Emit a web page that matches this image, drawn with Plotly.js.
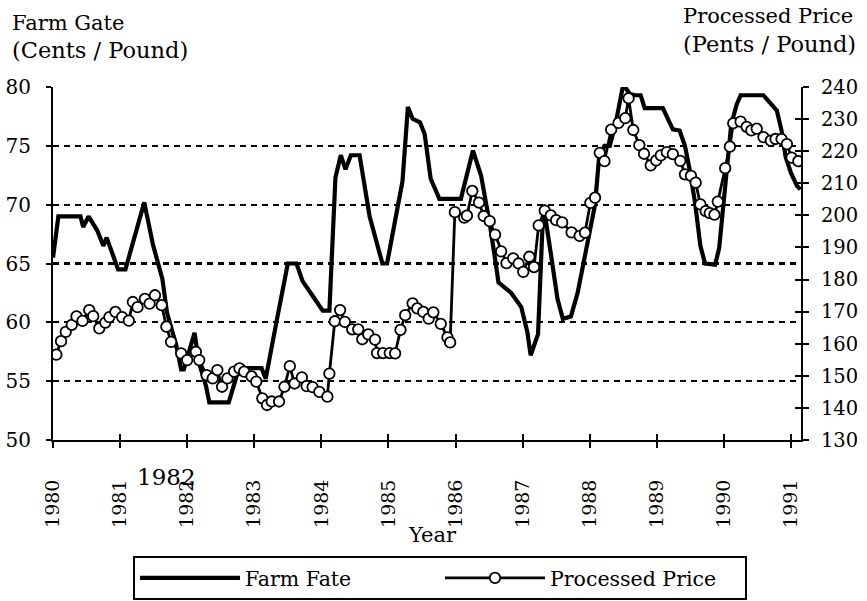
<!DOCTYPE html>
<html>
<head>
<meta charset="utf-8">
<script src="https://cdn.plot.ly/plotly-3.0.1.min.js"></script>
<style>
  html, body { margin: 0; padding: 0; background: #ffffff; }
  #chart { width: 867px; height: 601px; }
</style>
</head>
<body>
<div id="chart"></div>
<script>
// ---------------- data ----------------
const tickYears = [1980, 1981, 1982, 1983, 1984, 1985, 1986, 1987, 1988, 1989, 1990, 1991];
const tickLabels = ["1980", "1981", "1982", "1983", "1984", "1985", "1986", "1987", "1988", "1989", "1990", "1991"];

// Farm gate price (cents / pound), left axis
const farmYears = [
  1980.00, 1980.08, 1980.41, 1980.45, 1980.53, 1980.66, 1980.75, 1980.80, 1980.97,
  1981.08, 1981.36, 1981.49, 1981.63, 1981.70, 1981.84, 1981.91, 1981.95,
  1982.11, 1982.18, 1982.28, 1982.33, 1982.62, 1982.74, 1982.87,
  1983.11, 1983.17, 1983.34, 1983.50, 1983.63, 1983.72, 1983.90,
  1984.02, 1984.12, 1984.21, 1984.29, 1984.36, 1984.44, 1984.57, 1984.72, 1984.81, 1984.91, 1984.98,
  1985.10, 1985.21, 1985.29, 1985.36, 1985.47, 1985.54, 1985.63, 1985.76,
  1986.08, 1986.18, 1986.26, 1986.38, 1986.51, 1986.60, 1986.64, 1986.83, 1986.98,
  1987.07, 1987.12, 1987.23, 1987.31, 1987.43, 1987.52, 1987.60, 1987.72, 1987.82, 1987.93,
  1988.02, 1988.08, 1988.14, 1988.22, 1988.30, 1988.39, 1988.50, 1988.60, 1988.68, 1988.76, 1988.82,
  1989.09, 1989.24, 1989.34, 1989.42, 1989.49, 1989.57, 1989.65, 1989.72, 1989.87, 1989.93,
  1990.07, 1990.11, 1990.19, 1990.25, 1990.59, 1990.64, 1990.71, 1990.79, 1990.86, 1990.92,
  1991.00, 1991.09, 1991.14
];
const farmValues = [
  65.5, 69.0, 69.0, 68.1, 69.0, 67.8, 66.5, 67.2, 64.5,
  64.5, 70.2, 66.6, 63.7, 60.8, 58.0, 56.0, 56.0,
  59.1, 56.5, 54.6, 53.2, 53.2, 55.5, 56.1,
  56.1, 55.2, 60.3, 65.0, 65.0, 63.5, 62.0,
  61.0, 61.0, 72.3, 74.2, 73.0, 74.2, 74.2, 69.0, 67.0, 65.0, 65.0,
  68.5, 72.0, 78.3, 77.3, 77.0, 76.0, 72.2, 70.5,
  70.5, 73.0, 74.6, 72.5, 68.4, 65.0, 63.4, 62.5, 61.3,
  59.2, 57.2, 59.0, 70.0, 65.5, 62.0, 60.3, 60.5, 62.5, 65.5,
  68.0, 70.0, 74.0, 75.0, 75.0, 77.0, 80.2, 79.4, 79.3, 79.3, 78.2,
  78.2, 76.4, 76.3, 75.0, 73.0, 70.2, 66.5, 65.0, 64.9, 66.3,
  74.2, 76.8, 78.5, 79.3, 79.3, 79.0, 78.5, 78.0, 76.3, 74.1,
  72.7, 71.6, 71.3
];

// Processed price (cents / pound), right axis
const procYears = [
  1980.05, 1980.12, 1980.19, 1980.28, 1980.35, 1980.44, 1980.54, 1980.60, 1980.69, 1980.78, 1980.84, 1980.93,
  1981.03, 1981.13, 1981.19, 1981.26, 1981.37, 1981.44, 1981.52, 1981.62, 1981.69, 1981.76, 1981.91,
  1982.00, 1982.13, 1982.18, 1982.29, 1982.38, 1982.45, 1982.52, 1982.60, 1982.70, 1982.78, 1982.85, 1982.96,
  1983.03, 1983.12, 1983.19, 1983.26, 1983.37, 1983.45, 1983.53, 1983.60, 1983.71, 1983.78, 1983.87, 1983.97,
  1984.09, 1984.12, 1984.20, 1984.28, 1984.35, 1984.46, 1984.55, 1984.61, 1984.70, 1984.80, 1984.83, 1984.92,
  1985.02, 1985.10, 1985.18, 1985.25, 1985.36, 1985.43, 1985.52, 1985.60, 1985.67, 1985.78, 1985.88, 1985.92, 1985.99,
  1986.13, 1986.17, 1986.25, 1986.35, 1986.42, 1986.51, 1986.59, 1986.68, 1986.76, 1986.86, 1986.94,
  1987.01, 1987.10, 1987.17, 1987.24, 1987.33, 1987.42, 1987.50, 1987.59, 1987.73, 1987.85, 1987.93,
  1988.01, 1988.08, 1988.15, 1988.22, 1988.32, 1988.43, 1988.53, 1988.58, 1988.65, 1988.74, 1988.81, 1988.91, 1988.99,
  1989.06, 1989.15, 1989.24, 1989.35, 1989.42, 1989.51, 1989.58, 1989.65, 1989.73, 1989.79, 1989.86, 1989.91,
  1990.02, 1990.09, 1990.14, 1990.25, 1990.34, 1990.41, 1990.49, 1990.59, 1990.70, 1990.77, 1990.86, 1990.94,
  1991.01, 1991.11
];
const procValues = [
  156.6, 160.8, 163.7, 165.9, 168.5, 167.1, 170.5, 168.6, 164.8, 166.6, 168.3, 169.9,
  168.3, 167.2, 173.0, 171.4, 174.0, 172.5, 175.1, 172.0, 165.3, 160.6, 157.0,
  154.9, 157.5, 154.9, 150.2, 149.2, 151.8, 146.6, 149.2, 151.3, 152.3, 151.3, 149.8,
  148.2, 143.0, 140.9, 142.0, 142.0, 146.6, 153.0, 147.6, 149.5, 146.8, 146.5, 145.0,
  143.5, 150.7, 167.0, 170.5, 166.8, 164.5, 164.5, 161.4, 162.9, 161.3, 157.1, 157.1,
  157.1, 157.0, 164.3, 168.9, 172.6, 171.0, 169.9, 167.8, 169.8, 166.2, 162.0, 160.4, 201.0,
  199.3, 199.9, 207.6, 204.0, 199.8, 198.2, 194.0, 188.8, 185.1, 186.6, 185.0,
  182.4, 187.1, 183.9, 196.9, 201.5, 200.0, 198.5, 197.8, 194.7, 193.6, 194.6,
  203.9, 205.5, 219.5, 216.9, 226.7, 228.8, 230.3, 236.5, 226.6, 221.9, 219.2, 215.6, 217.1,
  218.7, 219.7, 219.1, 217.0, 212.8, 212.3, 210.2, 203.4, 201.3, 200.7, 200.2, 204.3,
  214.7, 221.4, 228.7, 229.2, 227.6, 226.5, 227.0, 224.4, 223.3, 223.8, 223.8, 222.2,
  218.0, 216.9
];

// ---------------- chart ----------------
const FONT = "DejaVu Serif, Liberation Serif, serif";
const X_RANGE = [1980, 1991.15];

const traces = [
  {
    type: "scatter", mode: "lines", name: "Farm Fate",
    x: farmYears, y: farmValues, xaxis: "x", yaxis: "y",
    line: { color: "#000", width: 4.2 }
  },
  {
    type: "scatter", mode: "lines+markers", name: "Processed Price",
    x: procYears, y: procValues, xaxis: "x", yaxis: "y2",
    line: { color: "#000", width: 2.8 },
    marker: { symbol: "circle", size: 10.5, color: "#fff", line: { color: "#000", width: 1.8 } }
  },
  // empty helper traces so the inward tick axes are drawn (crossing ticks)
  { type: "scatter", x: [], y: [], xaxis: "x2", yaxis: "y3", showlegend: false, hoverinfo: "skip" },
  { type: "scatter", x: [], y: [], xaxis: "x2", yaxis: "y4", showlegend: false, hoverinfo: "skip" }
];

const layout = {
  width: 867, height: 601,
  margin: { l: 53, r: 66, t: 87, b: 161, pad: 0, autoexpand: false },
  paper_bgcolor: "#fff", plot_bgcolor: "rgba(0,0,0,0)",
  font: { family: FONT, size: 20, color: "#000" },
  showlegend: true,
  legend: {
    orientation: "h", xref: "container", yref: "container",
    x: 0.1534, xanchor: "left", y: 0.0749, yanchor: "top",
    bordercolor: "#000", borderwidth: 2, bgcolor: "#fff",
    font: { family: FONT, size: 20.5, color: "#000" },
    itemwidth: 100, entrywidth: 190, traceorder: "normal"
  },
  xaxis: {
    range: X_RANGE, tickmode: "array", tickvals: tickYears, ticktext: tickLabels,
    tickangle: -90, ticks: "outside", ticklen: 6, tickwidth: 2, tickcolor: "#000",
    ticklabelstandoff: 24, automargin: false,
    tickfont: { family: FONT, size: 19 },
    showline: true, linecolor: "#000", linewidth: 2, showgrid: false, zeroline: false,
    fixedrange: true
  },
  xaxis2: {
    range: X_RANGE, overlaying: "x", anchor: "y", side: "bottom", automargin: false,
    tickmode: "array", tickvals: tickYears, ticks: "inside", ticklen: 6, tickwidth: 2,
    tickcolor: "#000", showticklabels: false, showline: false, showgrid: false, zeroline: false
  },
  yaxis: {
    range: [50, 80], tickmode: "linear", tick0: 50, dtick: 5, automargin: false,
    ticks: "outside", ticklen: 5, tickwidth: 2, tickcolor: "#000", ticklabelstandoff: 11,
    tickfont: { family: FONT, size: 20 },
    showline: true, linecolor: "#000", linewidth: 2,
    showgrid: true, gridcolor: "#000", gridwidth: 2.3, griddash: "6px,5px",
    zeroline: false, fixedrange: true
  },
  yaxis2: {
    range: [130, 240], overlaying: "y", side: "right", anchor: "x", automargin: false,
    tickmode: "linear", tick0: 130, dtick: 10,
    ticks: "outside", ticklen: 6, tickwidth: 2, tickcolor: "#000", ticklabelstandoff: 8,
    tickfont: { family: FONT, size: 19.5 },
    showline: true, linecolor: "#000", linewidth: 2, showgrid: false, zeroline: false,
    fixedrange: true
  },
  yaxis3: {
    range: [50, 80], overlaying: "y", side: "left", anchor: "x", automargin: false,
    tickmode: "linear", tick0: 50, dtick: 5, ticks: "inside", ticklen: 5, tickwidth: 2,
    tickcolor: "#000", showticklabels: false, showline: false, showgrid: false, zeroline: false
  },
  yaxis4: {
    range: [130, 240], overlaying: "y", side: "right", anchor: "x", automargin: false,
    tickmode: "linear", tick0: 130, dtick: 10, ticks: "inside", ticklen: 6, tickwidth: 2,
    tickcolor: "#000", showticklabels: false, showline: false, showgrid: false, zeroline: false
  },
  annotations: [
    {
      xref: "paper", yref: "paper", x: -0.0575, y: 1.1813, xanchor: "left", yanchor: "middle",
      showarrow: false, text: "Farm Gate", font: { family: FONT, size: 21 }
    },
    {
      xref: "paper", yref: "paper", x: -0.0575, y: 1.1048, xanchor: "left", yanchor: "middle",
      showarrow: false, text: "(Cents / Pound)", font: { family: FONT, size: 22.5 }
    },
    {
      xref: "paper", yref: "paper", x: 0.840, y: 1.2, xanchor: "left", yanchor: "middle",
      showarrow: false, text: "Processed Price", font: { family: FONT, size: 21 }
    },
    {
      xref: "paper", yref: "paper", x: 0.840, y: 1.1218, xanchor: "left", yanchor: "middle",
      showarrow: false, text: "(Pents / Pound)", font: { family: FONT, size: 22.5 }
    },
    {
      xref: "x", yref: "paper", x: 1981.69, y: -0.105, xanchor: "center", yanchor: "middle",
      showarrow: false, text: "1982", font: { family: FONT, size: 23 }
    },
    {
      xref: "paper", yref: "paper", x: 0.507, y: -0.269, xanchor: "center", yanchor: "middle",
      showarrow: false, text: "Year", font: { family: FONT, size: 21 }
    }
  ]
};

Plotly.newPlot("chart", traces, layout, { displayModeBar: false, staticPlot: true });
</script>
</body>
</html>
